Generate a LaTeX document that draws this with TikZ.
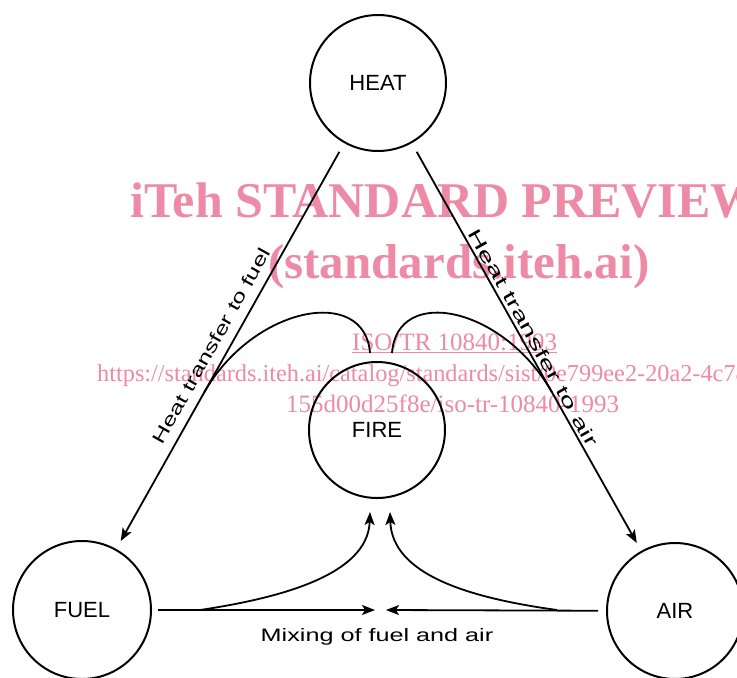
\documentclass[tikz,border=0pt]{standalone}
\usepackage{fontspec}
\setmainfont{Liberation Sans}
\newfontfamily\hand[FakeStretch=1.4]{Liberation Sans}
\newfontfamily\handw[FakeStretch=1.65]{Liberation Sans}
\newfontfamily\wmfont{Liberation Serif}
\usetikzlibrary{arrows.meta,calc}
\definecolor{wmpink}{RGB}{237,139,166}
\begin{document}
\begin{tikzpicture}[x=1pt,y=-1pt,
  ring/.style={draw,circle,line width=2pt,minimum size=136pt,inner sep=0pt,font=\fontsize{22}{24}\selectfont},
  conn/.style={line width=1.8pt},
  arr/.style={conn,-{Stealth[length=13pt,width=10pt,inset=3pt]}},
  lbl/.style={font=\hand\fontsize{18}{20}\selectfont,inner sep=1pt},
  wmbig/.style={text=wmpink,font=\wmfont\bfseries\fontsize{50}{52}\selectfont,inner sep=0pt,anchor=base west},
  wmsmall/.style={text=wmpink,font=\wmfont\fontsize{25}{27}\selectfont,inner sep=0pt,anchor=base west}]
\useasboundingbox (0,0) rectangle (737,678);
\fill[white] (0,0) rectangle (737,678);
% watermark
\node[wmbig] (wm1) at (130,217) {iTeh STANDARD PREVIEW};
\node[wmbig,font=\wmfont\bfseries\fontsize{49}{51}\selectfont] (wm2) at (268,278) {(standards.iteh.ai)};
\node[wmsmall] (wm3) at (352,350) {\underline{ISO/TR 10840:1993}};
\node[wmsmall,font=\wmfont\fontsize{24.3}{26}\selectfont] (wm4) at (97,381) {https://standards.iteh.ai/catalog/standards/sist/0e799ee2-20a2-4c78};
\node[wmsmall] (wm5) at (286,412) {155d00d25f8e/iso-tr-10840-1993};
% circles
\node[ring] (HEAT) at (378,83) {HEAT};
\node[ring] (FIRE) at (377,430) {FIRE};
\node[ring,minimum size=138pt] (FUEL) at (82,610) {FUEL};
\node[ring] (AIR) at (675,611) {AIR};
% heat transfer lines
\draw[arr,shorten <=10pt,shorten >=9pt] (HEAT) -- node[lbl,sloped,above=8pt,pos=0.52] (lblF) {Heat transfer to fuel} (FUEL);
\draw[arr,shorten <=10pt,shorten >=9pt] (HEAT) -- node[lbl,font=\handw\fontsize{18}{20}\selectfont,sloped,above=2pt,pos=0.49] (lblA) {Heat transfer to air} (AIR);
% loops
\coordinate (lj) at ($(HEAT)!0.588!(FUEL)$);
\coordinate (rj) at ($(HEAT)!0.586!(AIR)$);
\coordinate (fireL) at (370,353);
\coordinate (fireR) at (392,353);
\draw[conn] (lj) .. controls (253,306) and (365,285) .. (fireL);
\draw[conn] (rj) .. controls (503,306) and (397,285) .. (fireR);
% mixing
\coordinate (mixL) at (375,610);
\coordinate (mixR) at (386,610);
\draw[arr,shorten <=6pt] (FUEL) -- (mixL);
\draw[arr,shorten <=8pt] (AIR) -- (mixR);
\coordinate (cl) at (200,610);
\coordinate (cr) at (557,610);
\coordinate (fireBL) at (370,512);
\coordinate (fireBR) at (390,512);
\draw[arr] (cl) .. controls (280,598) and (368,575) .. (fireBL);
\draw[arr] (cr) .. controls (470,598) and (392,575) .. (fireBR);
\node[lbl] (mix) at (377,637) {Mixing of fuel and air};
\end{tikzpicture}
\end{document}
